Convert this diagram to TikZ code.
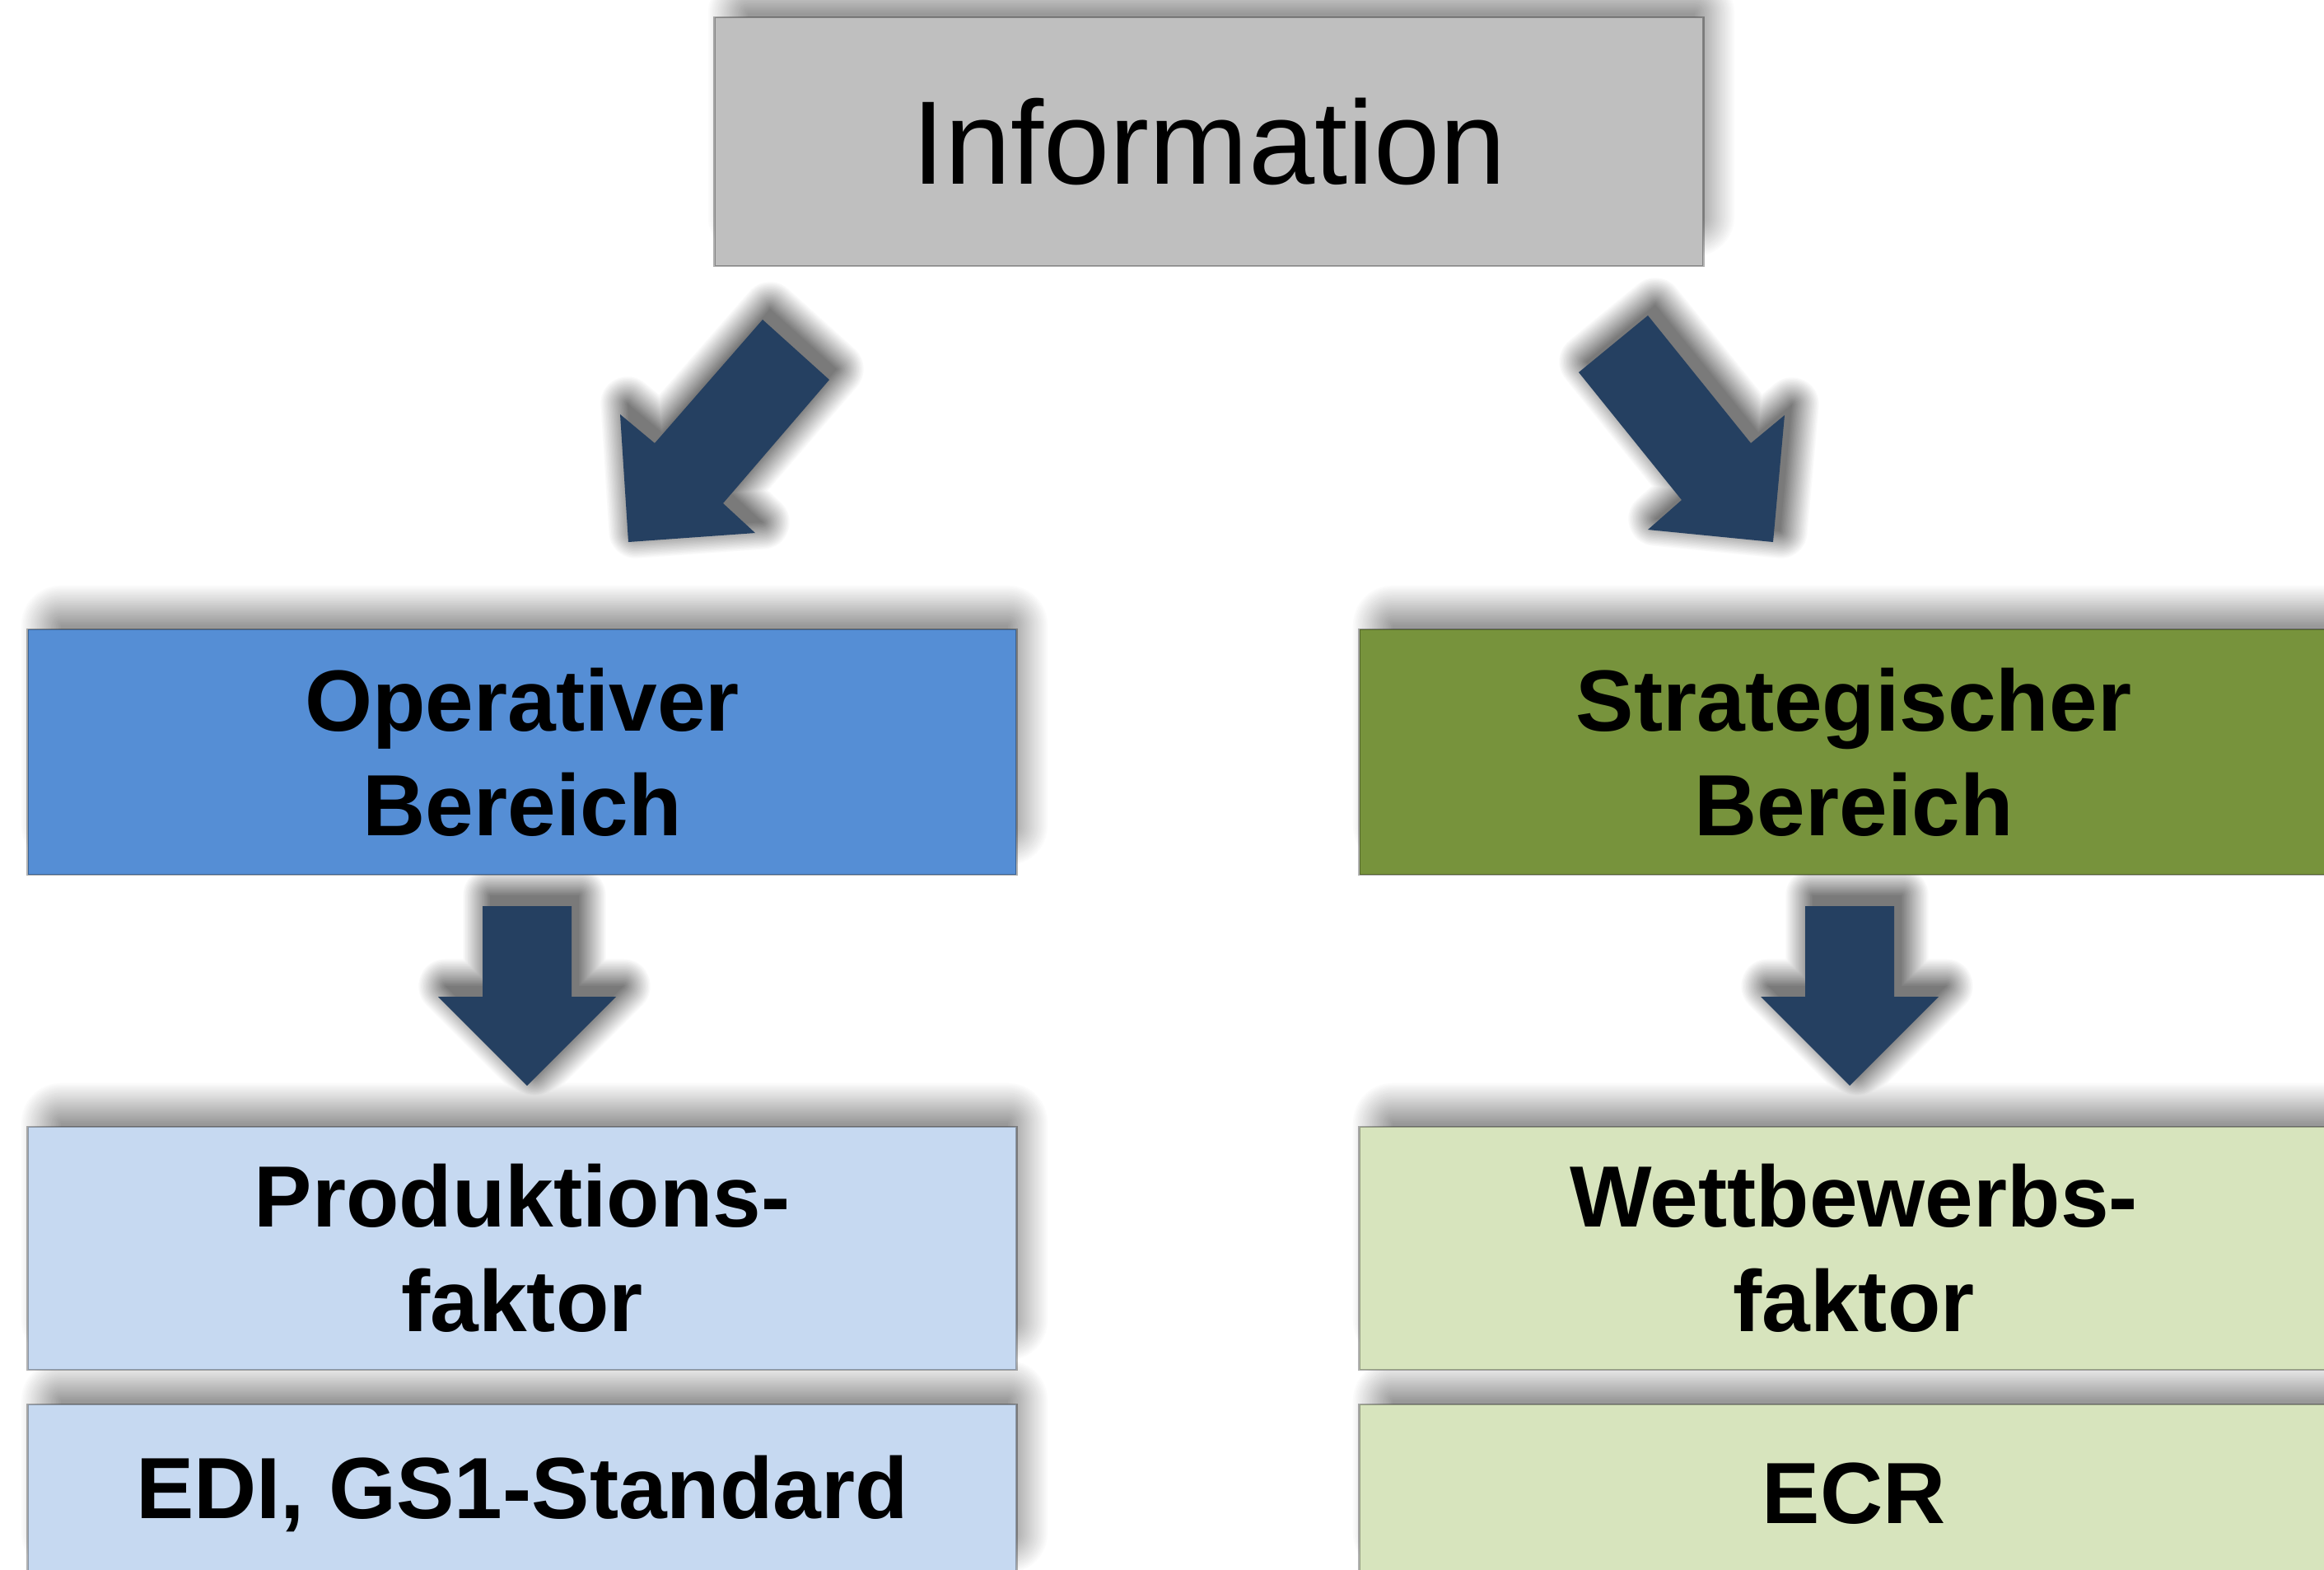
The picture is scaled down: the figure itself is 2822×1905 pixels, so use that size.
\documentclass[tikz,border=0pt]{standalone}
\usepackage{fontspec}
\setmainfont{Liberation Sans}
\definecolor{infogray}{HTML}{BFBFBF}
\definecolor{opblue}{HTML}{558ED5}
\definecolor{stratgreen}{HTML}{77933C}
\definecolor{lightblue}{HTML}{C6D9F1}
\definecolor{lightgreen}{HTML}{D7E4BD}
\definecolor{arrownavy}{HTML}{254061}

% soft shadow behind a panel: #1..#4 = left, top, right, bottom (px units)
\newcommand\panelshade[4]{%
  \foreach \k in {26,25,...,1}{%
    \pgfmathsetmacro\rad{50*\k/26}%
    \pgfmathsetmacro\shd{40*(1-\k/26)}%
    \pgfmathsetmacro\rnd{\rad*0.01}%
    \fill[black!\shd, rounded corners=\rnd cm]
      (#1+40-\rad, #2-5-\rad) rectangle (#3-10+\rad, #4-60+\rad);
  }%
  \fill[black!40] (#1+40, #2-5) rectangle (#3-10, #4-60);
}

% soft shadow behind a block arrow; #1 = style holding its outline
\newcommand\arrowshade[1]{%
  \foreach \k in {24,23,...,1}{%
    \pgfmathsetmacro\rad{34*\k/24}%
    \pgfmathsetmacro\shd{52*(1-\k/24)}%
    \pgfmathsetmacro\lw{\rad*0.02}%
    \path[shift={(9,-13)}, #1, fill=black!\shd, draw=black!\shd,
          line width=\lw cm, line join=round];
  }%
  \path[shift={(9,-13)}, #1, fill=black!52];
}

\begin{document}
\begin{tikzpicture}[x=0.01cm,y=-0.01cm,
  panel/.style={draw=black, draw opacity=0.3, line width=0.025cm,
      minimum width=12cm, align=center, inner sep=0pt,
      font=\fontsize{30}{36}\selectfont\bfseries},
  blockarrow/.style={fill=arrownavy},
  arrowL/.style={insert path={(926,388) -- (1007,461) -- (878,611) -- (917,647)
      -- (763,658) -- (753,503) -- (795,538) -- cycle}},
  arrowR/.style={insert path={(1917,452) -- (2001,383) -- (2126,538) -- (2167,504)
      -- (2153,658) -- (2001,643) -- (2042,607) -- cycle}},
  arrowDL/.style={insert path={(586,1100) -- (694,1100) -- (694,1210) -- (748,1210)
      -- (640,1318) -- (532,1210) -- (586,1210) -- cycle}},
  arrowDR/.style={insert path={(2192,1100) -- (2300,1100) -- (2300,1210) -- (2354,1210)
      -- (2246,1318) -- (2138,1210) -- (2192,1210) -- cycle}}
]
\clip (0,0) rectangle (2822,1905);
\fill[white] (0,0) rectangle (2822,1905);

% shadows (darken keeps the darker of overlapping shadow layers)
\begin{scope}[blend mode=darken]
\panelshade{868}{21}{2068}{323}
\panelshade{34}{764}{1234}{1062}
\panelshade{1651}{764}{2851}{1062}
\panelshade{34}{1368}{1234}{1663}
\panelshade{1651}{1368}{2851}{1663}
\panelshade{34}{1705}{1234}{1921}
\panelshade{1651}{1705}{2851}{1921}
\arrowshade{arrowL}
\arrowshade{arrowR}
\arrowshade{arrowDL}
\arrowshade{arrowDR}
\end{scope}

% top box
\node[panel, fill=infogray, minimum height=3.02cm,
      font=\fontsize{41}{49}\selectfont] (info) at (1468,172) {Information};

% second row
\node[panel, fill=opblue, minimum height=2.98cm] (oper) at (634,913)
  {Operativer\\Bereich};
\node[panel, fill=stratgreen, minimum height=2.98cm] (strat) at (2251,913)
  {Strategischer\\Bereich};

% third row
\node[panel, fill=lightblue, minimum height=2.95cm] (prod) at (634,1515.5)
  {Produktions-\\faktor};
\node[panel, fill=lightgreen, minimum height=2.95cm] (wett) at (2251,1515.5)
  {Wettbewerbs-\\faktor};

% fourth row
\node[panel, fill=lightblue, minimum height=2.16cm] (edi) at (634,1813)
  {EDI, GS1-Standard};
\node[panel, fill=lightgreen, minimum height=2.16cm] (ecr) at (2251,1813)
  {ECR};

% block arrows
\path[blockarrow, arrowL];
\path[blockarrow, arrowR];
\path[blockarrow, arrowDL];
\path[blockarrow, arrowDR];
\end{tikzpicture}
\end{document}
